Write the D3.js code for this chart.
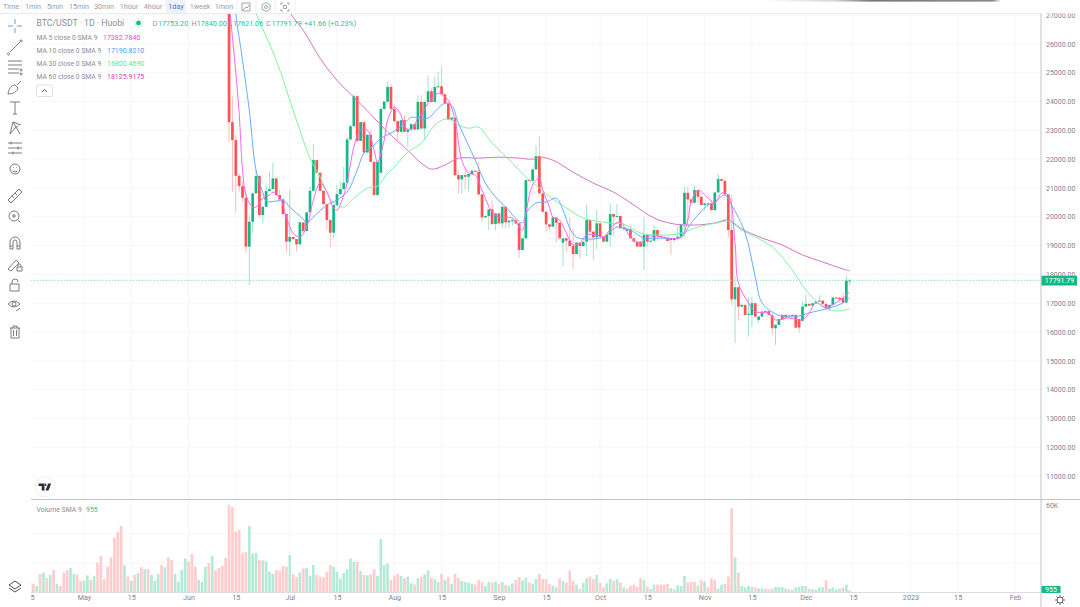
<!DOCTYPE html>
<html lang="en">
<head>
<meta charset="UTF-8">
<title>BTC/USDT 1D Huobi</title>
<script src="https://d3js.org/d3.v7.min.js"></script>
<style>
  html, body { margin: 0; padding: 0; background: #fff; overflow: hidden; }
  text { font-family: Roboto, "Noto Sans", sans-serif; }
</style>
</head>
<body>
<div id="chart"></div>
<script>
// daily candles, first one is 13 Jun 2022, last 14 Dec 2022
const candleStart = "2022-06-13";
const opens = [
  27200,23280,22656,21420,21062,20658,18960,19826,20808,21409,
  20057,20346,20889,20958,21328,20750,20600,20092,19133,19295,
  19226,19041,19803,19503,20150,20900,21963,21524,20900,20438,
  19884,19445,20404,20785,20958,21178,22679,23141,24181,22633,
  23280,22229,22841,21905,20750,21524,23742,23996,24504,23742,
  23314,22945,23349,22945,23026,23210,23026,23984,23060,23984,
  24354,23984,24504,24527,24250,23927,23372,23441,21443,21293,
  21443,21386,21478,21593,21559,20773,19976,20023,20254,19745,
  20115,19768,20346,19803,19861,19880,19768,18845,19249,21270,
  21247,21640,22102,20808,20173,19733,19653,19976,19791,19098,
  19248,19168,18983,18706,19098,18983,19133,19884,19479,19283,
  19768,19306,19133,19364,20091,20000,20022,19595,19502,19560,
  19248,19133,19133,18960,19364,19133,19168,19537,19329,19283,
  19248,19248,19191,19248,19306,19733,20830,20600,20484,20923,
  20692,20403,20426,20461,20230,20842,21304,21246,20772,19536,
  17134,17550,16880,16938,16591,16591,16996,16418,16534,16707,
  16720,16591,16129,16245,16591,16591,16580,16557,16591,16441,
  16383,16880,16972,16915,16996,17053,17088,16972,16822,16938,
  17192,17190,17169,17019,17753.2
];
const highs = [
  27300,24180,22830,21500,21200,21040,20057,20850,21616,21450,
  20346,21154,21559,21871,21350,20924,20600,20100,20924,19300,
  19230,19830,19810,20160,21040,22517,21980,21540,20920,20450,
  19900,20420,21097,21212,21732,22772,23180,24273,24210,23300,
  23300,22860,23003,21920,21920,23760,24020,24677,24596,23869,
  23330,23370,23522,23040,23230,23230,24215,24215,24000,24908,
  24446,24850,25024,25197,24270,23950,23460,23460,21617,21460,
  21617,21500,21651,21610,21905,20790,20040,20270,20577,20130,
  20140,20360,20360,19880,19950,19900,19780,19270,21290,21290,
  21660,22483,22795,20830,20190,19750,20000,19990,19800,19260,
  19260,19976,19537,19120,19120,19150,20403,19900,19500,20230,
  19790,19320,19380,20461,20110,20438,20040,19620,19580,19595,
  19260,19150,19150,19976,19380,19190,19710,19550,19350,19300,
  19260,19260,19270,19653,19750,21038,21038,20620,21096,20940,
  20710,20450,20500,20600,20860,21477,21320,21270,20790,20749,
  17943,17570,16990,16950,17203,17203,17010,16550,16720,16760,
  16740,16610,16260,16460,16610,16610,16600,16610,16610,16460,
  17053,17307,16990,17010,17070,17284,17110,16990,16950,17210,
  17210,17210,17342,17954,17840
];
const lows = [
  22600,20866,20138,20866,20500,18752,17632,19422,20808,20000,
  19768,20346,20889,20958,20700,20519,20060,18752,18637,19200,
  18787,19030,19450,19480,20120,20880,21500,20880,20400,19537,
  18937,19250,20380,20760,20940,21150,22650,23120,22600,22620,
  22200,22210,21880,20730,20730,21520,23700,23950,23700,23290,
  22656,22920,22930,22425,22945,23000,23000,23030,22656,23960,
  23960,23960,24480,24230,23900,23350,23350,21420,20808,20785,
  20924,20866,21450,21540,20750,19826,19950,19537,19720,19537,
  19740,19595,19595,19595,19700,19750,18556,18830,19230,21230,
  21230,21620,20790,20150,19480,19537,19630,19098,19770,18290,
  18786,19150,18174,18690,18555,18960,18636,19120,18497,18867,
  19260,19280,19110,18960,19340,19980,19980,19570,19500,19480,
  19230,19110,18940,18151,18940,19110,19110,19150,19310,19260,
  19230,18670,19098,19170,19230,19290,19700,20580,20460,20460,
  20670,20230,20380,20210,20210,20820,21230,20750,19248,16938,
  15610,16395,16860,16557,15840,16187,16510,16300,16510,16680,
  16570,15898,15552,16230,16420,16490,16530,16540,16130,15979,
  16360,16860,16890,16900,16980,17040,16950,16741,16720,16920,
  17150,16996,17000,16990,17621.06
];
const closes = [
  23280,22656,21420,21062,20658,18960,19826,20808,21409,20057,
  20346,20889,20958,21328,20750,20600,20092,19133,19295,19226,
  19041,19803,19503,20150,20900,21963,21524,20900,20438,19884,
  19445,20404,20785,20958,21178,22679,23141,24181,22633,23280,
  22229,22841,21905,20750,21905,23742,23996,24504,23742,23314,
  22945,23349,22945,23026,23210,23026,23984,23060,23984,24354,
  23984,24504,24527,24250,23927,23372,23441,21443,21293,21443,
  21386,21478,21593,21559,20773,19976,20023,20254,19745,20115,
  19768,20346,19803,19861,19880,19768,18845,19249,21270,21247,
  21640,22102,20808,20173,19733,19653,19976,19791,19248,19248,
  19168,18983,18706,19098,18983,19133,19884,19479,19283,19768,
  19306,19133,19364,20091,20000,20022,19595,19595,19560,19248,
  19133,18960,18960,19364,19133,19168,19537,19329,19283,19248,
  19156,19191,19248,19306,19733,20830,20600,20484,20923,20692,
  20403,20461,20461,20230,20842,21304,21246,20772,19536,17134,
  17550,16880,16938,16591,16630,16996,16534,16534,16707,16720,
  16591,16129,16245,16441,16441,16510,16557,16591,16152,16152,
  16880,16972,16915,16996,17053,17088,16972,16822,16938,17192,
  17169,17134,17019,17781,17791.79
];

// moving averages: day index from candleStart and value
const ma5Days = [0,1,2,3,4,5,7,8,10,12,13,15,17,19,21,23,25,27,29,31,32,34,35,37,39,41,43,44,46,47,49,51,52,54,56,57,59,62,63,65,67,69,71,73,75,78,80,84,87,88,90,92,93,95,96,98,100,102,104,106,109,111,114,116,119,122,124,127,130,134,136,137,139,142,144,146,148,150,151,154,156,160,162,166,170,172,174,177,182,184];
const ma5Values = [27508,26226,25013,23591,21616,20749,20333,20333,20645,20749,20853,20680,19987,19432,19294,19640,20576,21165,20853,20299,20229,20749,21165,22413,23002,23002,22309,21893,22656,23349,23799,23522,23106,23037,23418,23522,23938,24285,24250,24042,23349,21962,21512,21443,20923,20160,19987,19952,19536,20125,21096,21338,20923,20333,19987,19883,19432,19016,19086,19363,19363,19294,19710,19813,19294,19086,19294,19328,19259,19294,19883,20507,20923,20645,20472,20819,20749,19086,17699,17006,16694,16660,16417,16486,16417,16660,17006,16867,17179,17382.78];
const ma10Days = [1,2,4,6,8,10,11,14,16,18,22,23,25,29,32,35,38,40,43,45,48,52,54,56,59,62,64,66,68,73,76,79,82,87,88,91,94,97,99,101,103,106,111,115,119,123,128,134,137,142,144,147,149,153,156,158,162,165,169,172,178,182,184];
const ma10Values = [28500,27057,25428,23695,21616,20853,20541,20541,20576,20333,19917,19779,19987,20403,20576,20853,21616,22205,22482,22725,22898,23245,23453,23418,23418,23765,23938,23869,23245,21962,21165,20680,20333,19779,20125,20472,20507,20645,20229,19606,19294,19224,19294,19640,19536,19259,19259,19294,19779,20403,20507,20749,20403,19432,17907,17006,16625,16521,16555,16660,16833,17006,17190.82];
const ma30Days = [7,8,14,19,24,27,31,34,37,41,44,47,49,53,57,61,64,66,68,71,74,78,84,88,92,96,101,105,113,117,122,127,133,139,146,148,152,161,167,171,176,178,181,184];
const ma30Values = [27404,27057,25428,23695,22032,21373,20472,20333,20645,20992,21061,21512,21720,22240,22552,23176,23384,23349,23176,23071,23106,22552,21858,21373,20992,20611,20229,19952,19779,19744,19432,19363,19398,19640,19813,19848,19536,18947,18150,17456,16867,16765,16730,16800.47];
const ma60Days = [18,19,22,27,32,37,42,47,52,57,60,64,68,74,80,86,90,92,96,102,108,114,120,126,132,138,144,148,152,158,164,170,176,182,184];
const ma60Values = [27126,26919,26468,25497,24735,24146,23556,22933,22413,21859,21650,21789,22031,22031,22066,22031,21996,22066,21962,21546,21165,20853,20403,19953,19745,19710,19779,19883,19572,19260,19018,18671,18429,18186,18125.92];

// volume in thousands, first bar is 15 Apr 2022
const volumeStart = "2022-04-15";
const volumes = [
  6.5,5.5,4.2,12.5,13.4,9.7,11.8,15.2,5.5,4.2,
  13.4,15,16.6,12.5,11.8,7.6,7.8,11.5,8.3,11.1,
  20.3,24.9,8.8,17.5,24,37.4,41.3,45.7,18.5,10.6,
  7.8,11.8,12.9,17.1,15.7,15.7,11.8,7.8,12.5,18.5,
  17.1,23.8,21.9,12.5,6.9,15.2,23.1,21.2,26.3,17.5,
  8.3,6.9,17.5,19.8,24.9,15,16.6,18,23.5,60,
  58.6,41.5,42.7,27,27.7,45.7,26.5,27,21.9,21.9,
  21.2,14.1,12.5,15,14.5,18,17.5,25.6,12.2,10.4,
  13.4,16.2,16.6,11.3,18.7,11.8,10.6,10.2,13.8,18.5,
  17.5,13.8,9.2,13.2,15.7,23.1,20.8,20.8,14.5,11.8,
  11.5,12,15.7,11.3,36.5,18.5,19.6,8.3,11.3,12.5,
  11.1,9.5,10.6,6,5.1,9.5,10.4,12.2,15,9.7,
  8.8,6.9,12.5,8.3,10.2,
  5.5,12.5,9.7,7.6,6.9,6.5,5.5,5.1,8.3,6.9,
  4.2,6.9,6.5,7.2,5.5,6.9,4.8,4.2,6,8.3,
  10.4,7.8,9.7,6.5,5.5,9,12.5,9,9,5.5,
  4.4,3.2,9.5,7.6,6.5,15,7.8,5.1,2.3,6.2,
  9.5,10.6,8.8,11.8,6.5,3.2,6,9,7.6,8.8,
  6.7,3.2,2.3,4.4,5.1,3.7,9.5,8.3,3.7,2.1,
  5.1,5.1,5.1,5.1,5.5,2.8,1.8,4.6,4.2,11.1,
  6.7,6.9,7.2,4.6,8.3,7.2,3.2,9.5,8.3,2.3,
  5.1,5.5,10.6,57.7,23.8,13.4,4.2,3.2,4.2,3.7,
  3.2,2.5,2.5,2.1,1.8,2.3,3.5,3.5,3.2,2.3,
  1.8,1.4,3.2,3.7,4.2,4.2,2.3,1.8,1.6,3.2,
  3.2,8.3,2.3,3.2,1.8,2.3,3.2,5.1,0.955
];
// G = up day, R = down day
const volumeDirs =
  "GRGRGRGRGRRRGGRRGGRGRRRRRRRRGRGRGRGRGGGRGRRGGGGRRRGGGRGRRRRR" +
  "RRRRRGGGRGGGGRRRRGRRGRGGGRRRRRGGGGGGGRGRGRRGGGGRRRGRGGRGRGGRGGRGR" +
  "GRRGGGGRRRGGRGRGRGGRRGGRGGRRRRGGRGRRRGRGGRRGRRGGRGRGRRRRRGRG" +
  "GRRRRGGGGGRRRGRGRRRGGRRRGRGGGGRGGRRRGGGGRRGGGGRGGGGRGGGGRGG";

const priceTicks = [27000,26000,25000,24000,23000,22000,21000,20000,19000,18000,17000,16000,15000,14000,13000,12000,11000];
const timeTicks = ["2022-04-15","2022-05-01","2022-05-15","2022-06-01","2022-06-15","2022-07-01","2022-07-15","2022-08-01","2022-08-15","2022-09-01","2022-09-15","2022-10-01","2022-10-15","2022-11-01","2022-11-15","2022-12-01","2022-12-15","2023-01-01","2023-01-15","2023-02-01"];
const timeLabels = ["15","May","15","Jun","15","Jul","15","Aug","15","Sep","15","Oct","15","Nov","15","Dec","15","2023","15","Feb"];
const intervals = ["Time","1min","5min","15min","30min","1hour","4hour","1day","1week","1mon"];
const intervalX = [11,33,55,79,104,129,153,176,200,224];

const up = "#12b886", down = "#ff5252", upPale = "#b4ead8", downPale = "#ffcdcd";
const upWick = "#a0e2cc", downWick = "#ffbcbc";
const axisText = "#7f838e", lineGrey = "#c3c3ca", gridGrey = "#f6f6f8";

const width = 1080, height = 607;
const left = 31, right = 1041;

const svg = d3.select("#chart").append("svg").attr("width", width).attr("height", height).style("display", "block");

const parse = d3.utcParse("%Y-%m-%d");
const addDays = (d, n) => d3.utcDay.offset(d, n);

const x = d3.scaleUtc().domain([parse("2022-05-01"), parse("2023-02-01")]).range([84, 1015]);
const y = d3.scaleLinear().domain([11000, 27000]).range([476, 15]);
const yVol = d3.scaleLinear().domain([0, 60]).range([592, 505]);

const defs = svg.append("defs");
defs.append("clipPath").attr("id", "priceClip").append("rect").attr("x", left).attr("y", 14).attr("width", right - left).attr("height", 485);
defs.append("clipPath").attr("id", "volClip").append("rect").attr("x", left).attr("y", 500).attr("width", right - left).attr("height", 92);
defs.append("linearGradient").attr("id", "smear").selectAll("stop")
  .data([[0, "#fff"], [0.3, "#d4d4d4"], [0.45, "#777"], [0.97, "#888"], [1, "#eee"]]).enter().append("stop")
  .attr("offset", d => d[0]).attr("stop-color", d => d[1]);

// grid
const tickDates = timeTicks.map(parse);
svg.append("g").selectAll("line").data(tickDates).enter().append("line")
  .attr("x1", d => x(d)).attr("x2", d => x(d)).attr("y1", 14).attr("y2", 592)
  .attr("stroke", gridGrey).attr("stroke-width", 1);
svg.append("g").selectAll("line").data(priceTicks).enter().append("line")
  .attr("x1", left).attr("x2", right).attr("y1", d => y(d)).attr("y2", d => y(d))
  .attr("stroke", gridGrey).attr("stroke-width", 1);
svg.append("g").selectAll("line").data([20, 40]).enter().append("line")
  .attr("x1", left).attr("x2", right).attr("y1", d => yVol(d)).attr("y2", d => yVol(d))
  .attr("stroke", gridGrey).attr("stroke-width", 1);

// volume bars
const volDates = volumes.map((v, i) => addDays(parse(volumeStart), i));
svg.append("g").attr("clip-path", "url(#volClip)").selectAll("rect").data(volumes).enter().append("rect")
  .attr("x", (d, i) => x(volDates[i]) - 1.35)
  .attr("width", 2.7)
  .attr("y", d => yVol(d))
  .attr("height", d => yVol(0) - yVol(d))
  .attr("fill", (d, i) => volumeDirs[i] === "G" ? upPale : downPale);

// candles
const candleData = closes.map((c, i) => ({
  date: addDays(parse(candleStart), i), o: opens[i], h: highs[i], l: lows[i], c: c
}));
const candles = svg.append("g").attr("clip-path", "url(#priceClip)");
candles.append("g").selectAll("line").data(candleData).enter().append("line")
  .attr("x1", d => x(d.date)).attr("x2", d => x(d.date))
  .attr("y1", d => y(d.h)).attr("y2", d => y(d.l))
  .attr("stroke", d => d.c >= d.o ? upWick : downWick).attr("stroke-width", 1);
candles.append("g").selectAll("rect").data(candleData).enter().append("rect")
  .attr("x", d => x(d.date) - 1.35).attr("width", 2.7)
  .attr("y", d => y(Math.max(d.o, d.c)))
  .attr("height", d => Math.max(1, Math.abs(y(d.o) - y(d.c))))
  .attr("fill", d => d.c >= d.o ? up : down);

// moving averages
const maLine = d3.line().x(d => x(d[0])).y(d => y(d[1])).curve(d3.curveCatmullRom);
function drawMa(days, values, color) {
  const pts = days.map((n, i) => [addDays(parse(candleStart), n), values[i]]);
  svg.append("path").datum(pts).attr("clip-path", "url(#priceClip)")
    .attr("fill", "none").attr("stroke", color).attr("stroke-width", 1).attr("d", maLine);
}
drawMa(ma60Days, ma60Values, "#d873c4");
drawMa(ma30Days, ma30Values, "#7df5a5");
drawMa(ma10Days, ma10Values, "#69abff");
drawMa(ma5Days, ma5Values, "#ff66f0");

// last price line
const lastPrice = closes[closes.length - 1];
svg.append("line").attr("x1", left).attr("x2", right).attr("y1", y(lastPrice)).attr("y2", y(lastPrice))
  .attr("stroke", "#8fe0c8").attr("stroke-width", 1).attr("stroke-dasharray", "1.5 1.5");

// frame
svg.append("line").attr("x1", left).attr("x2", width).attr("y1", 499.5).attr("y2", 499.5).attr("stroke", lineGrey).attr("stroke-width", 1.2);
svg.append("line").attr("x1", right).attr("x2", right).attr("y1", 13).attr("y2", height).attr("stroke", lineGrey).attr("stroke-width", 1);
svg.append("line").attr("x1", left).attr("x2", right).attr("y1", 592.5).attr("y2", 592.5).attr("stroke", "#dcdce0").attr("stroke-width", 1);

// price axis labels
const yAxis = d3.axisRight(y).tickValues(priceTicks).tickFormat(d => d3.format(".2f")(d)).tickSize(0).tickPadding(5);
const yg = svg.append("g").attr("transform", `translate(${right},0)`).call(yAxis);
yg.select(".domain").remove();
yg.selectAll("text").attr("fill", axisText).style("font-size", "7px").style("font-family", "Roboto");

svg.append("rect").attr("x", right + 0.5).attr("y", y(lastPrice) - 4.6).attr("width", 35.5).attr("height", 9.8).attr("fill", up);
svg.append("text").attr("x", right + 18.5).attr("y", y(lastPrice) + 2.9).attr("text-anchor", "middle")
  .attr("fill", "#fff").style("font-size", "7px").text(d3.format(".2f")(lastPrice));

svg.append("text").attr("x", right + 5).attr("y", 508).attr("fill", axisText).style("font-size", "7px").text("60K");
svg.append("rect").attr("x", right + 0.5).attr("y", 586).attr("width", 19).attr("height", 7).attr("fill", up);
svg.append("text").attr("x", right + 10).attr("y", 592.3).attr("text-anchor", "middle").attr("fill", "#fff").style("font-size", "7px").text("955");

// time axis labels
const xAxis = d3.axisBottom(x).tickValues(tickDates).tickFormat((d, i) => timeLabels[i]).tickSize(0).tickPadding(2);
const xg = svg.append("g").attr("transform", "translate(0,593)").call(xAxis);
xg.select(".domain").remove();
xg.selectAll("text").attr("fill", axisText).style("font-size", "7.2px").style("font-family", "Roboto");

// left toolbar background hides what runs past the pane
svg.append("rect").attr("x", 0).attr("y", 14).attr("width", left).attr("height", height - 14).attr("fill", "#fff");

// top toolbar
svg.append("rect").attr("x", 0).attr("y", 0).attr("width", width).attr("height", 13.5).attr("fill", "#fff");
svg.append("rect").attr("x", 166).attr("y", 0).attr("width", 20).attr("height", 13).attr("fill", "#eef3fb");
svg.append("line").attr("x1", 0).attr("x2", right).attr("y1", 13.5).attr("y2", 13.5).attr("stroke", "#ececef").attr("stroke-width", 1);
svg.append("g").selectAll("text").data(intervals).enter().append("text")
  .attr("x", (d, i) => intervalX[i]).attr("y", 9).attr("text-anchor", "middle")
  .attr("fill", d => d === "1day" ? "#5b8fd9" : "#9a9da6").style("font-size", "7.2px")
  .style("font-weight", d => d === "1day" ? 500 : 400).text(d => d);
svg.append("g").selectAll("line").data([22, 166, 237, 256, 275, 295]).enter().append("line")
  .attr("x1", d => d).attr("x2", d => d).attr("y1", 0).attr("y2", 13).attr("stroke", "#f0f0f3");
svg.append("rect").attr("x", 765).attr("y", 0).attr("width", 235).attr("height", 1.6).attr("fill", "url(#smear)");

// legend
const legend = svg.append("g");
legend.append("text").attr("x", 36.5).attr("y", 26.3).attr("fill", "#8b8e98").style("font-size", "8.7px").text("BTC/USDT · 1D · Huobi");
legend.append("circle").attr("cx", 138.5).attr("cy", 23).attr("r", 5).attr("fill", "#e3f6f0");
legend.append("circle").attr("cx", 138.5).attr("cy", 23).attr("r", 2.3).attr("fill", up);
const ohlcText = ["O","17753.20","H","17840.00","L","17621.06","C","17791.79","+41.66 (+0.23%)"];
const ohlcX = [152.5,158,191.5,196.7,228,233,266,271.5,304];
legend.append("g").selectAll("text").data(ohlcText).enter().append("text")
  .attr("x", (d, i) => ohlcX[i]).attr("y", 26.3)
  .attr("fill", (d, i) => i % 2 === 0 && i < 8 ? "#8b8e98" : "#22c39b").style("font-size", "7.2px").text(d => d);

const maLabels = ["MA 5 close 0 SMA 9","MA 10 close 0 SMA 9","MA 30 close 0 SMA 9","MA 60 close 0 SMA 9"];
const maLast = ["17382.7840","17190.8210","16800.4690","18125.9175"];
const maColors = ["#ff3df0","#4a9bff","#3ff57f","#d63fb0"];
const maLastX = [103,107,107,107];
const rows = legend.append("g").selectAll("g").data(maLabels).enter().append("g")
  .attr("transform", (d, i) => `translate(0,${39.5 + i * 13.3})`);
rows.append("text").attr("x", 36.5).attr("fill", "#8b8e98").style("font-size", "6.8px").text(d => d);
rows.append("text").attr("x", (d, i) => maLastX[i]).attr("fill", (d, i) => maColors[i]).style("font-size", "7px").text((d, i) => maLast[i]);
legend.append("rect").attr("x", 36.5).attr("y", 85).attr("width", 16).attr("height", 11.5).attr("rx", 1.5).attr("fill", "#fff").attr("stroke", "#dfdfe3");
legend.append("path").attr("d", "M42 92 L44.5 89.5 L47 92").attr("fill", "none").attr("stroke", "#555").attr("stroke-width", 1);

legend.append("text").attr("x", 36.5).attr("y", 511.5).attr("fill", "#8b8e98").style("font-size", "6.9px").text("Volume SMA 9");
legend.append("text").attr("x", 86).attr("y", 511.5).attr("fill", "#22c39b").style("font-size", "7px").text("955");

// toolbar icons, each drawn around its own origin
const iconColor = "#6a6d78";
const icons = [
  [15, 26, "M-7 0H-2M2 0H7M0 -7V-2M0 2V7", "#5b8fd9"],
  [15, 47, "M-5 5L5 -5M-6.5 6a1 1 0 1 0 .1 0M6 -7a1 1 0 1 0 .1 0", iconColor],
  [15, 67, "M-7 -6H7M-7 -2H7M-7 2H4M-7 6H4M6 2a1 1 0 1 0 .1 0M6 6a1 1 0 1 0 .1 0", iconColor],
  [15, 88, "M-7 6C-6 0 -3 -3 0 -3L3 0C2 4 -2 6 -7 6ZM2 -3L6 -7", iconColor],
  [15, 108, "M-5 -6H5M0 -6V6M-2 6H2", iconColor],
  [15, 128, "M-5 6L-2 -6L5 6M-2 -6L6 -3M-5 6L0 0M3 -2L0 0", iconColor],
  [15, 148, "M-7 -5H7M-7 0H7M-7 5H7M-4 -6.5V-3.5M3 -1.5V1.5M-2 3.5V6.5", iconColor],
  [15, 169, "M-5 0a5 5 0 1 0 10 0a5 5 0 1 0 -10 0M-2.5 2Q0 4 2.5 2M-2 -1.5H-1.4M1.4 -1.5H2", iconColor],
  [15, 196, "M-7 4L4 -7L7 -4L-4 7ZM-3 0L-1 2M0 -3L2 -1", iconColor],
  [14, 216, "M-5 0a5 5 0 1 0 10 0a5 5 0 1 0 -10 0M-2 0H2M0 -2V2M4 4L6.5 6.5", iconColor],
  [15, 243, "M-5 6V-1a5 5 0 0 1 10 0V6H2V-1a2 2 0 0 0 -4 0V6ZM-5 3H-2M2 3H5", iconColor],
  [14, 264, "M-6 5L2 -4L5 -1L-3 7ZM3 3H8V7H3ZM4 3V1.5a1.5 1.5 0 0 1 3 0V3", iconColor],
  [14, 285, "M-4 -1H5V6H-4ZM-2 -1V-3a3 3 0 0 1 6 0", iconColor],
  [14, 305, "M-6 -1Q0 -7 6 -1Q0 5 -6 -1ZM-2 -1a2 2 0 1 0 4 0a2 2 0 1 0 -4 0M2 6L6 3", iconColor],
  [15, 332, "M-5 -4H5M-2 -4V-6H2V-4M-4 -4V6H4V-4M-1.5 -2V4M1.5 -2V4", iconColor],
  [15, 586, "M-6 -1L0 -5L6 -1L0 3ZM-6 2L0 6L6 2", "#3a3d46"],
  [1060, 600, "M-3 0a3 3 0 1 0 6 0a3 3 0 1 0 -6 0M0 -5V-3M0 3V5M-5 0H-3M3 0H5M-3.5 -3.5L-2 -2M2 2L3.5 3.5M3.5 -3.5L2 -2M-2 2L-3.5 3.5", "#50535e"],
  [246, 7, "M-4 -4H4V4H-4ZM-3 3L0 0L1 1L3 -2", "#9a9da6"],
  [266, 7, "M0 -4.5L4 -2.2V2.2L0 4.5L-4 2.2V-2.2ZM-1.5 0a1.5 1.5 0 1 0 3 0a1.5 1.5 0 1 0 -3 0", "#9a9da6"],
  [285, 7, "M-4 -2V-4H-2M2 -4H4V-2M4 2V4H2M-2 4H-4V2M-1.5 -1.5H1.5V1.5H-1.5Z", "#9a9da6"]
];
svg.append("g").selectAll("path").data(icons).enter().append("path")
  .attr("transform", d => `translate(${d[0]},${d[1]})`)
  .attr("d", d => d[2]).attr("fill", "none").attr("stroke", d => d[3]).attr("stroke-width", 0.9);

// chart library logo
svg.append("circle").attr("cx", 45).attr("cy", 487).attr("r", 10).attr("fill", "#fff").attr("stroke", "#f1f1f3");
svg.append("path").attr("transform", "translate(38.5,483.5)")
  .attr("d", "M0 0H6V7H3.2V2.6H0ZM7 7L9.6 0H12.6L10 7ZM6.6 0a1.3 1.3 0 1 0 .1 0")
  .attr("fill", "#2a2e39");
</script>
</body>
</html>
